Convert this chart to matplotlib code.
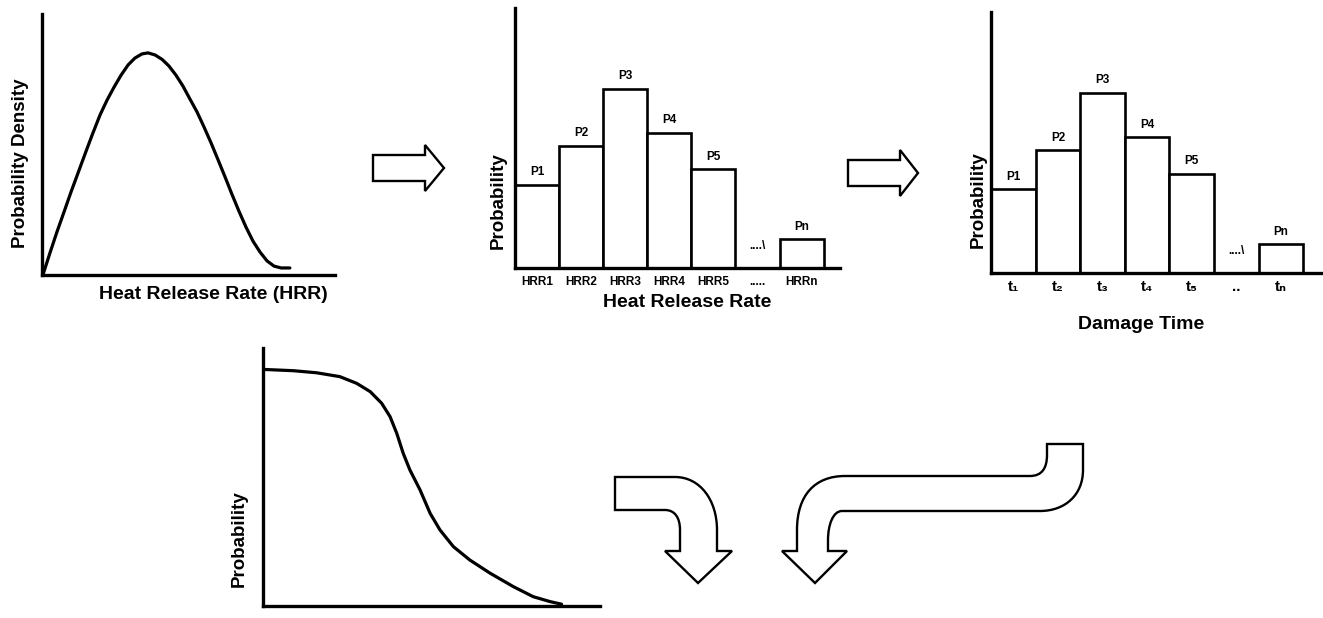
import matplotlib
matplotlib.use("Agg")
from matplotlib import pyplot as plt
from matplotlib.path import Path
from matplotlib.patches import PathPatch

plt.rcParams['font.family'] = ['Liberation Sans', 'DejaVu Sans']

# heat release rate pdf (normalised x, density)
hrr_x = [0.003, 0.027, 0.051, 0.075, 0.099, 0.123, 0.147, 0.171, 0.198, 0.222, 0.246, 0.270,
         0.294, 0.317, 0.341, 0.362, 0.386, 0.410, 0.433, 0.457, 0.481, 0.505, 0.529, 0.553,
         0.577, 0.601, 0.625, 0.648, 0.672, 0.696, 0.720, 0.744, 0.768, 0.792, 0.816, 0.846]
hrr_pdf = [0.0, 0.084, 0.165, 0.241, 0.318, 0.391, 0.464, 0.536, 0.613, 0.670, 0.720, 0.766,
           0.805, 0.831, 0.847, 0.851, 0.843, 0.826, 0.801, 0.766, 0.724, 0.674, 0.625, 0.567,
           0.506, 0.441, 0.375, 0.310, 0.245, 0.184, 0.130, 0.088, 0.054, 0.034, 0.027, 0.027]

# discretised probabilities
bar_pos = [0, 1, 2, 3, 4, 6]
p_values = [0.32, 0.47, 0.69, 0.52, 0.38, 0.11]
p_labels = ['P1', 'P2', 'P3', 'P4', 'P5', 'Pn']
hrr_ticks = ['HRR1', 'HRR2', 'HRR3', 'HRR4', 'HRR5', '.....', 'HRRn']
time_ticks = ['t\u2081', 't\u2082', 't\u2083', 't\u2084', 't\u2085', '..', 't\u2099']

# exceedance curve
surv_x = [0.001, 0.090, 0.159, 0.228, 0.278, 0.318, 0.352, 0.377, 0.397, 0.416, 0.436,
          0.466, 0.496, 0.525, 0.565, 0.614, 0.674, 0.743, 0.802, 0.852, 0.886]
surv_p = [0.917, 0.912, 0.904, 0.889, 0.863, 0.831, 0.786, 0.734, 0.669, 0.592, 0.527,
          0.450, 0.359, 0.295, 0.230, 0.178, 0.127, 0.075, 0.036, 0.017, 0.007]

W, H = 1323, 618
fig = plt.figure(figsize=(W / 100, H / 100), dpi=100)


def panel(left, right, top, bottom):
    ax = fig.add_axes([left / W, 1 - bottom / H, (right - left) / W, (bottom - top) / H])
    for s in ['top', 'right']:
        ax.spines[s].set_visible(False)
    for s in ['left', 'bottom']:
        ax.spines[s].set_linewidth(2.4)
    ax.set_yticks([])
    ax.set_xticks([])
    return ax


def bars(ax, xmax, ylab_pad, ylab_y, tick_labels, tick_size, tick_pad, gap_y):
    ax.bar(bar_pos, p_values, width=1, color='white', edgecolor='black', linewidth=1.9)
    for x, v, lab in zip(bar_pos, p_values, p_labels):
        ax.text(x, v + 0.025, lab, ha='center', va='bottom', fontsize=8.5, fontweight='bold')
    ax.text(5, gap_y, '....\\', ha='center', va='bottom', fontsize=8.5, fontweight='bold')
    ax.set_xlim(-0.5, xmax)
    ax.set_ylim(0, 1)
    ax.set_xticks(range(len(tick_labels)))
    ax.set_xticklabels(tick_labels, fontsize=tick_size, fontweight='bold')
    ax.tick_params(axis='x', length=0, pad=tick_pad)
    ax.set_ylabel('Probability', fontsize=13.5, fontweight='bold', labelpad=ylab_pad, y=ylab_y)


# panel 1
ax1 = panel(42, 335, 14, 275)
ax1.plot(hrr_x, hrr_pdf, color='black', lw=2.3, solid_capstyle='round', solid_joinstyle='round')
ax1.set_xlim(0, 1)
ax1.set_ylim(0, 1)
ax1.set_xlabel('Heat Release Rate (HRR)', fontsize=14, fontweight='bold', labelpad=8, x=0.585)
ax1.set_ylabel('Probability Density', fontsize=13.5, fontweight='bold', labelpad=9, y=0.43)

# panel 2
ax2 = panel(515, 840, 8, 268)
bars(ax2, 6.87, 6, 0.26, hrr_ticks, 8.5, 6, 0.06)
ax2.set_xlabel('Heat Release Rate', fontsize=14, fontweight='bold', labelpad=4, x=0.53)

# panel 3
ax3 = panel(991, 1323, 12, 273)
bars(ax3, 6.94, 3, 0.28, time_ticks, 11, 5, 0.06)
ax3.set_xlabel('Damage Time', fontsize=14, fontweight='bold', labelpad=16, x=0.452)

# panel 4
ax4 = panel(263, 600, 348, 606)
ax4.plot(surv_x, surv_p, color='black', lw=2.3, solid_capstyle='round', solid_joinstyle='round')
ax4.set_xlim(0, 1)
ax4.set_ylim(0, 1)
ax4.set_ylabel('Probability', fontsize=13.5, fontweight='bold', labelpad=11, y=0.26)

# block arrows in pixel space
ov = fig.add_axes([0, 0, 1, 1], facecolor='none')
ov.set_xlim(0, W)
ov.set_ylim(H, 0)
ov.axis('off')

M, L, C, Z = Path.MOVETO, Path.LINETO, Path.CURVE4, Path.CLOSEPOLY


def shape(verts, codes):
    ov.add_patch(PathPatch(Path(verts, codes), facecolor='white', edgecolor='black',
                           lw=1.7, joinstyle='miter'))


def right_arrow(x0, x1, xt, ymid, shaft_h, head_h):
    v = [(x0, ymid - shaft_h / 2), (x1, ymid - shaft_h / 2), (x1, ymid - head_h / 2),
         (xt, ymid), (x1, ymid + head_h / 2), (x1, ymid + shaft_h / 2),
         (x0, ymid + shaft_h / 2), (x0, ymid - shaft_h / 2)]
    shape(v, [M, L, L, L, L, L, L, Z])


right_arrow(373, 425, 444, 168, 26, 46)
right_arrow(848, 900, 918, 173, 26, 46)

# bent arrow down-right
v = [(615, 477), (675, 477), (700, 477), (717, 500), (717, 530), (717, 551), (732, 551),
     (698, 583), (665, 551), (680, 551), (680, 530), (680, 518), (675, 510), (665, 510),
     (615, 510), (615, 477)]
c = [M, L, C, C, C, L, L, L, L, L, L, C, C, C, L, Z]
shape(v, c)

# long s-bent arrow
v = [(1047, 444), (1083, 444), (1083, 470), (1083, 495), (1065, 511), (1040, 511),
     (842, 511), (833, 511), (828, 525), (828, 540), (828, 551), (847, 551), (815, 583),
     (782, 551), (797, 551), (797, 530), (797, 495), (815, 476), (845, 476), (1030, 476),
     (1042, 476), (1047, 468), (1047, 455), (1047, 444)]
c = [M, L, L, C, C, C, L, C, C, C, L, L, L, L, L, L, C, C, C, L, C, C, C, Z]
shape(v, c)

fig.savefig('out.png', dpi=100)
